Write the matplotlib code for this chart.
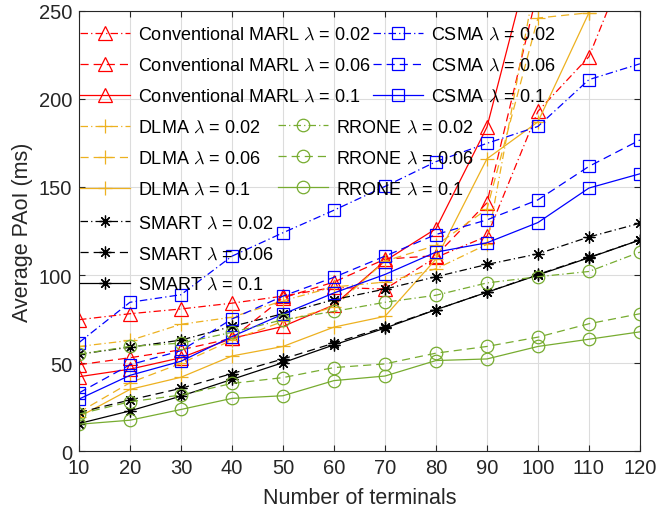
import numpy as np
import matplotlib
matplotlib.use('Agg')
import matplotlib.pyplot as plt

plt.rcParams['font.family'] = ['Liberation Sans', 'DejaVu Sans']
plt.rcParams['mathtext.fontset'] = 'cm'

terminals = [10, 20, 30, 40, 50, 60, 70, 80, 90, 100, 110, 120]
lambdas = ['0.02', '0.06', '0.1']

# Average PAoI (ms); values above 250 are clipped by the axes
marl = [
    [74.6, 78, 80.7, 84, 88, 93, 92, 110, 122, 193, 224, 296],
    [49, 53, 57.5, 64, 87, 96, 109, 111, 141, 262, 350, 450],
    [42.2, 46.5, 53, 64, 70.8, 83, 108, 126.3, 184, 296, 400, 500],
]
csma = [
    [61.6, 84.5, 88.8, 110.7, 124, 136.8, 150.3, 164.4, 174.8, 184.4, 211, 220],
    [33, 49, 57, 75, 88, 98.7, 110.7, 123, 131.3, 142.7, 161.7, 176.7],
    [29.5, 43, 51, 65, 77.8, 89.8, 100.3, 113, 118.3, 129.8, 149.4, 157.5],
]
dlma = [
    [59.4, 62.8, 72, 76, 85.4, 93.2, 96, 103.5, 117.4, 275, 350, 450],
    [22, 38.8, 49.8, 63, 73.6, 81.8, 107.9, 116.8, 137.4, 246, 249, 330],
    [19.4, 35, 41.9, 54, 59.4, 70.4, 76.5, 109, 166, 187, 249, 330],
]
rrone = [
    [55, 59.4, 61.3, 67.4, 74.6, 79.3, 84.5, 88.5, 95.5, 99, 102, 113],
    [21, 28, 31.8, 38.4, 41.7, 47.4, 49.5, 55.6, 59.4, 64.7, 72.3, 78],
    [15.2, 17.5, 23.6, 29.9, 31.4, 40, 42.6, 51.4, 52.3, 59.4, 63.5, 67.7],
]
smart = [
    [55, 59, 63, 70.8, 78, 86, 92, 99, 106, 112, 121.6, 129.4],
    [21.9, 29, 35.6, 44, 52.3, 61.3, 70.4, 80.3, 90.2, 100.3, 110, 119.9],
    [15.6, 22.8, 31.2, 40.7, 50.2, 60.3, 69.8, 80.3, 90.2, 100, 109.8, 119.9],
]

# dash-dot, dashed, solid (MATLAB-like dash lengths)
dash_patterns = [(6, 2.5, 1, 2.5), (6.5, 4), None]
red = '#ff0000'
blue = '#0000ff'
orange = '#edb120'
green = '#77ac30'
asterisk = (8, 2, 0)

fig = plt.figure(figsize=(6.57, 5.10), dpi=100)
ax = fig.add_axes([0.1202, 0.1137, 0.8538, 0.8628])


def plot_group(data, name, color, marker, ms):
    handles = []
    for vals, dsh, lam in zip(data, dash_patterns, lambdas):
        h, = ax.plot(terminals, vals, color=color, marker=marker,
                     ms=ms, mfc='none', mec=color, lw=0.9, mew=0.9,
                     label=name + r' $\lambda$ = ' + lam)
        if dsh is not None:
            h.set_dashes(dsh)
        handles.append(h)
    return handles


h_marl = plot_group(marl, 'Conventional MARL', red, '^', 9.5)
h_dlma = plot_group(dlma, 'DLMA', orange, '+', 9.5)
h_smart = plot_group(smart, 'SMART', 'black', asterisk, 8.5)
h_csma = plot_group(csma, 'CSMA', blue, 's', 8)
h_rrone = plot_group(rrone, 'RRONE', green, 'o', 9)

ax.set_xlim(10, 120)
ax.set_ylim(0, 250)
ax.set_xticks(terminals)
ax.set_yticks(np.arange(0, 251, 50))
ax.grid(True, color='#dcdcdc', lw=0.8)
ax.set_axisbelow(True)
ax.tick_params(direction='in', top=True, right=True, labelsize=14.5,
               length=4, pad=5, color='#262626', labelcolor='#262626')
for sp in ax.spines.values():
    sp.set_color('#262626')
    sp.set_linewidth(0.8)
ax.set_xlabel('Number of terminals', fontsize=15.5, color='#262626', labelpad=7)
ax.set_ylabel('Average PAoI (ms)', fontsize=15.5, color='#262626', labelpad=4)

leg_kw = dict(loc='upper left', frameon=False, fontsize=13, handlelength=2.75,
              handletextpad=0.45, borderaxespad=0.0, borderpad=0.0,
              labelspacing=0.775)
legs = [
    ax.legend(handles=h_marl + h_dlma, bbox_to_anchor=(0.002, 0.966), **leg_kw),
    ax.legend(handles=h_smart, bbox_to_anchor=(0.002, 0.538), **leg_kw),
    ax.legend(handles=h_csma, bbox_to_anchor=(0.524, 0.966), **leg_kw),
    ax.legend(handles=h_rrone, bbox_to_anchor=(0.355, 0.756), **leg_kw),
]
for lg in legs[:-1]:
    ax.add_artist(lg)

fig.savefig('out.png', dpi=100)
